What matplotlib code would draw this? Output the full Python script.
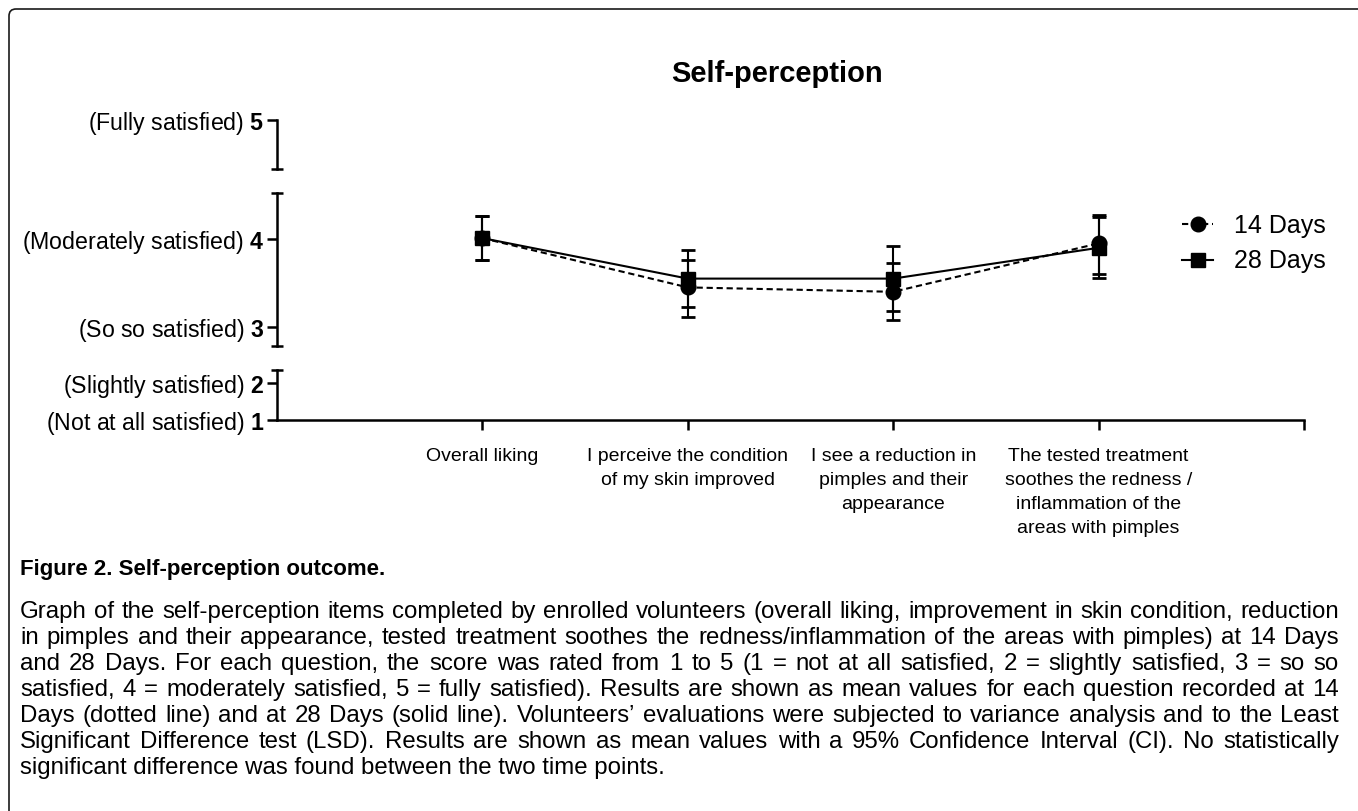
import matplotlib
matplotlib.use('Agg')
import matplotlib.pyplot as plt
from matplotlib.lines import Line2D
from matplotlib.patches import FancyBboxPatch
from matplotlib.transforms import IdentityTransform
import numpy as np

plt.rcParams['font.family'] = ['Liberation Sans', 'DejaVu Sans']
plt.rcParams['mathtext.fontset'] = 'custom'
plt.rcParams['mathtext.rm'] = 'Liberation Sans'
plt.rcParams['mathtext.bf'] = 'Liberation Sans:bold'

# ---------------- data ----------------
categories = ["Overall liking",
              "I perceive the condition\nof my skin improved",
              "I see a reduction in\npimples and their\nappearance",
              "The tested treatment\nsoothes the redness /\ninflammation of the\nareas with pimples"]
series_names = ["14 Days", "28 Days"]
mean_14 = [4.01, 3.45, 3.40, 3.95]
low_14 = [3.76, 3.11, 3.08, 3.60]
high_14 = [4.26, 3.76, 3.73, 4.27]
mean_28 = [4.01, 3.55, 3.55, 3.90]
low_28 = [3.76, 3.23, 3.18, 3.56]
high_28 = [4.26, 3.875, 3.92, 4.25]
score_values = [1, 2, 3, 4, 5]
score_labels = ["Not at all satisfied", "Slightly satisfied", "So so satisfied",
                "Moderately satisfied", "Fully satisfied"]
title = "Self-perception"
caption_title = "Figure 2. Self-perception outcome."
caption_lines = [
    "Graph of the self-perception items completed by enrolled volunteers (overall liking, improvement in skin condition, reduction",
    "in pimples and their appearance, tested treatment soothes the redness/inflammation of the areas with pimples) at 14 Days",
    "and 28 Days. For each question, the score was rated from 1 to 5 (1 = not at all satisfied, 2 = slightly satisfied, 3 = so so",
    "satisfied, 4 = moderately satisfied, 5 = fully satisfied). Results are shown as mean values for each question recorded at 14",
    "Days (dotted line) and at 28 Days (solid line). Volunteers\u2019 evaluations were subjected to variance analysis and to the Least",
    "Significant Difference test (LSD). Results are shown as mean values with a 95% Confidence Interval (CI). No statistically",
    "significant difference was found between the two time points.",
]

# ---------------- layout ----------------
W, H = 1358, 811
fig = plt.figure(figsize=(W / 100, H / 100), dpi=100)
fig.patch.set_facecolor('white')


def add_ax(x0, top, x1, bottom):
    return fig.add_axes([x0 / W, 1 - bottom / H, (x1 - x0) / W, (bottom - top) / H])


X0, X1 = 277, 1304
axA = add_ax(X0, 120, X1, 169)   # top segment (5)
axB = add_ax(X0, 193, X1, 346)   # middle segment (3-4), holds data
axC = add_ax(X0, 370, X1, 420)   # bottom segment (1-2) with x axis

pxB = 88.0
axA.set_ylim(5 - 49 / pxB, 5)
axB.set_ylim(3 - 19 / pxB, 4 + 46 / pxB)
pxC = 37.0
axC.set_ylim(1, 2 + 13 / pxC)

LW = 1.8
YFS = 16.7
for ax in (axA, axB, axC):
    ax.set_xlim(0, 5)
    for s in ('top', 'right', 'bottom'):
        ax.spines[s].set_visible(False)
    ax.spines['left'].set_linewidth(LW)
    ax.patch.set_visible(False)
    ax.tick_params(axis='y', length=7.2, width=LW, pad=2, labelsize=YFS, colors='black')
    ax.set_xticks([])


def ylab(v):
    return "(" + score_labels[v - 1] + ") $\\mathbf{" + str(v) + "}$"


axA.set_yticks([5]); axA.set_yticklabels([ylab(5)])
axB.set_yticks([3, 4]); axB.set_yticklabels([ylab(3), ylab(4)])
axC.set_yticks([1, 2]); axC.set_yticklabels([ylab(1), ylab(2)])

axC.spines['bottom'].set_visible(True)
axC.spines['bottom'].set_linewidth(LW)
axC.set_xticks([1, 2, 3, 4, 5])
axC.set_xticklabels(categories + [""], fontsize=14, linespacing=1.55)
axC.tick_params(axis='x', length=7, width=LW, pad=13)

# break caps
cap_kw = dict(ls='none', marker='_', ms=8.5, mew=LW, color='k', clip_on=False)
axA.plot([0], [axA.get_ylim()[0]], **cap_kw)
axB.plot([0, 0], list(axB.get_ylim()), **cap_kw)
axC.plot([0], [axC.get_ylim()[1]], **cap_kw)

# data
x = np.arange(1, len(categories) + 1)
dash = (0, (3, 1.8))
m14 = np.array(mean_14); m28 = np.array(mean_28)
axB.errorbar(x, m14, yerr=[m14 - np.array(low_14), np.array(high_14) - m14],
             fmt='o', ls=dash, color='k', lw=1.5, ms=10.5, capsize=5, capthick=2,
             elinewidth=1.5)
axB.errorbar(x, m28, yerr=[m28 - np.array(low_28), np.array(high_28) - m28],
             fmt='s', ls='-', color='k', lw=1.5, ms=10.5, capsize=5, capthick=2,
             elinewidth=1.5)
for art in axB.get_children():
    try:
        art.set_clip_on(False)
    except Exception:
        pass

# legend
h14 = Line2D([], [], color='k', ls=dash, lw=1.5, marker='o', ms=10.5)
h28 = Line2D([], [], color='k', ls='-', lw=1.5, marker='s', ms=10.5)
fig.legend([h14, h28], series_names, loc='upper left',
           bbox_to_anchor=(1182 / W, 1 - 214 / H), frameon=False, fontsize=18,
           handlelength=1.25, handletextpad=0.85, labelspacing=0.45,
           borderpad=0, borderaxespad=0)

# title
fig.text(777 / W, 1 - 74 / H, title, ha='center', va='center',
         fontsize=21, fontweight='bold')

# border
border = FancyBboxPatch((9, -30), 1420, (H - 9) + 30,
                        boxstyle="round,pad=0,rounding_size=7",
                        transform=IdentityTransform(), fill=False,
                        edgecolor='#1a1a1a', lw=1.2)
fig.patches.append(border)

# caption
CX0, CX1 = 20, 1339
fig.text(CX0 / W, 1 - 575 / H, caption_title, ha='left', va='baseline',
         fontsize=16, fontweight='bold')

renderer = fig.canvas.get_renderer()


def width_of(s, fs):
    t = fig.text(0, 0, s, fontsize=fs)
    w = t.get_window_extent(renderer).width
    t.remove()
    return w


base_fs = 15
nat = max(width_of(l, base_fs) for l in caption_lines[:-1])
cfs = base_fs * (CX1 - CX0) / nat * 0.995

for i, line in enumerate(caption_lines):
    yb = 618 + 26 * i
    if i == len(caption_lines) - 1:
        fig.text(CX0 / W, 1 - yb / H, line, ha='left', va='baseline', fontsize=cfs)
        continue
    words = line.split(' ')
    ws = [width_of(w, cfs) for w in words]
    gap = (CX1 - CX0 - sum(ws)) / (len(words) - 1)
    xx = CX0
    for w, wd in zip(words, ws):
        fig.text(xx / W, 1 - yb / H, w, ha='left', va='baseline', fontsize=cfs)
        xx += wd + gap

fig.savefig('out.png', dpi=100)
